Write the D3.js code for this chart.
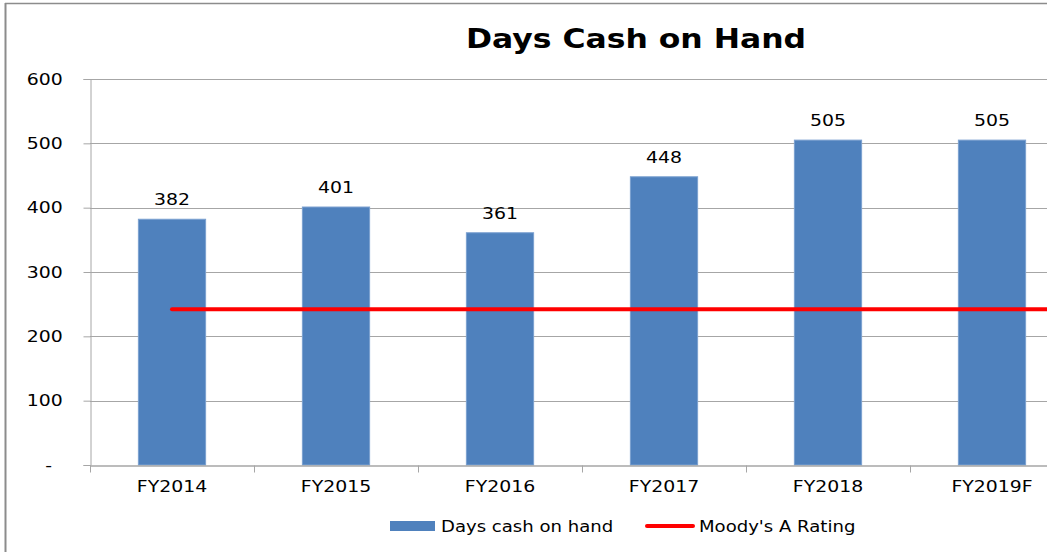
<!DOCTYPE html>
<html lang="en">
<head>
<meta charset="utf-8">
<title>Days Cash on Hand</title>
<script src="https://cdn.jsdelivr.net/npm/d3@7"></script>
<style>
  body { margin: 0; background: #fff; }
  text { font-family: "DejaVu Sans", "Open Sans", sans-serif; fill: #000; }
</style>
</head>
<body>
<script>
// chart data
var years = ["FY2014", "FY2015", "FY2016", "FY2017", "FY2018", "FY2019F"];
var daysCash = [382, 401, 361, 448, 505, 505];
var moodysA = [242, 242, 242, 242, 242, 242];
var yTicks = [0, 100, 200, 300, 400, 500, 600];

var W = 1047, H = 552;
var plotLeft = 90, plotTop = 79, plotBottom = 465;
var bandW = 164;
// the original text looks a bit wide, stretch it sideways
var axisStretch = 1.18, titleStretch = 1.21, legendStretch = 1.13;

var svg = d3.select("body").append("svg")
  .attr("width", W).attr("height", H);

// outer frame (only left and top edges are visible)
svg.append("line").attr("x1", 5.5).attr("x2", 5.5).attr("y1", 3).attr("y2", H)
  .attr("stroke", "#8c8c8c").attr("stroke-width", 2);
svg.append("line").attr("x1", 5).attr("x2", W).attr("y1", 3.5).attr("y2", 3.5)
  .attr("stroke", "#8c8c8c").attr("stroke-width", 1.5);

var x = d3.scaleBand().domain(years)
  .range([plotLeft, plotLeft + bandW * years.length])
  .paddingInner(0.59).paddingOuter(0.295);

var y = d3.scaleLinear().domain([0, 600]).range([plotBottom, plotTop]);

// title
svg.append("text")
  .attr("transform", "translate(636,48) scale(" + titleStretch + ",1)")
  .attr("text-anchor", "middle")
  .style("font-size", "26px").style("font-weight", "bold")
  .text("Days Cash on Hand");

// gridlines
svg.append("g").selectAll("line")
  .data(yTicks.slice(1))
  .enter().append("line")
  .attr("x1", plotLeft).attr("x2", W)
  .attr("y1", function(d) { return Math.round(y(d)) + 0.5; })
  .attr("y2", function(d) { return Math.round(y(d)) + 0.5; })
  .attr("stroke", "#a6a6a6").attr("stroke-width", 1);

// y axis
var yAxis = d3.axisLeft(y).tickValues(yTicks).tickSize(7).tickPadding(16.5)
  .tickFormat(function(d) { return d === 0 ? "-" : d; });
var gy = svg.append("g").attr("transform", "translate(" + (plotLeft + 0.5) + ",0)").call(yAxis);
gy.select(".domain").attr("stroke", "#a6a6a6");
gy.selectAll(".tick line").attr("stroke", "#a6a6a6");
gy.selectAll("text").style("font-size", "16px").attr("fill", "#000")
  .attr("transform", "scale(" + axisStretch + ",1)")
  .attr("dx", function(d) { return d === 0 ? -9 : 0; }); // accounting style dash sits further left

// bars
svg.append("g").selectAll("rect")
  .data(daysCash)
  .enter().append("rect")
  .attr("x", function(d, i) { return x(years[i]); })
  .attr("y", function(d) { return y(d); })
  .attr("width", x.bandwidth())
  .attr("height", function(d) { return plotBottom - y(d); })
  .attr("fill", "#4f81bd")
  .attr("stroke", "#7ba0d0").attr("stroke-width", 1);

// x axis
var xAxis = d3.axisBottom(x).tickSize(0).tickPadding(15);
var gx = svg.append("g").attr("transform", "translate(0," + (plotBottom + 0.5) + ")").call(xAxis);
gx.select(".domain").attr("stroke", "#a6a6a6").attr("stroke-width", 1.5);
gx.selectAll("text").style("font-size", "16px").attr("fill", "#000")
  .attr("transform", "scale(" + axisStretch + ",1)");
// category boundary ticks
gx.append("g").selectAll("line")
  .data(d3.range(years.length + 1))
  .enter().append("line")
  .attr("x1", function(i) { return plotLeft + i * bandW + 0.5; })
  .attr("x2", function(i) { return plotLeft + i * bandW + 0.5; })
  .attr("y1", 0).attr("y2", 7)
  .attr("stroke", "#a6a6a6");

// value labels
svg.append("g").selectAll("text")
  .data(daysCash)
  .enter().append("text")
  .attr("transform", function(d, i) {
    return "translate(" + (x(years[i]) + x.bandwidth() / 2) + "," + (y(d) - 14) + ") scale(" + axisStretch + ",1)";
  })
  .attr("text-anchor", "middle")
  .style("font-size", "16px")
  .text(function(d) { return d; });

// Moody's A rating line, running on past the last category
var linePts = moodysA.map(function(v, i) { return [x(years[i]) + x.bandwidth() / 2, y(v)]; });
linePts.push([W, y(moodysA[moodysA.length - 1])]);
svg.append("path")
  .attr("d", d3.line()(linePts))
  .attr("fill", "none")
  .attr("stroke", "#ff0000").attr("stroke-width", 4)
  .attr("stroke-linecap", "round");

// legend
var lg = svg.append("g");
lg.append("rect").attr("x", 390).attr("y", 521).attr("width", 45).attr("height", 10)
  .attr("fill", "#4f81bd");
lg.append("text").attr("transform", "translate(441,532) scale(" + legendStretch + ",1)")
  .style("font-size", "16px")
  .text("Days cash on hand");
lg.append("line").attr("x1", 647).attr("x2", 693).attr("y1", 526).attr("y2", 526)
  .attr("stroke", "#ff0000").attr("stroke-width", 4).attr("stroke-linecap", "round");
lg.append("text").attr("transform", "translate(699,532) scale(" + legendStretch + ",1)")
  .style("font-size", "16px")
  .text("Moody's A Rating");
</script>
</body>
</html>
